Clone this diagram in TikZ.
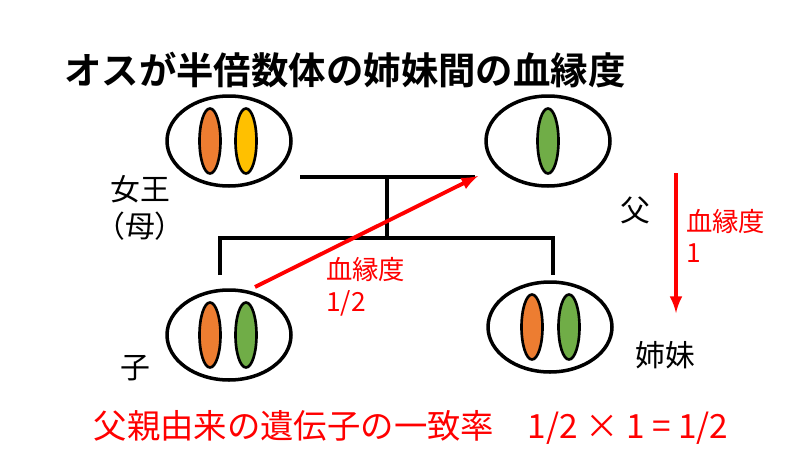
\documentclass[tikz,border=0pt]{standalone}
\usepackage{fontspec}
\setmainfont{Noto Sans CJK JP}
\newfontfamily\jpbold{Noto Sans CJK JP Bold}
\usetikzlibrary{shapes.geometric}
\definecolor{corange}{HTML}{ED7D31}
\definecolor{cyellow}{HTML}{FFC000}
\definecolor{cgreen}{HTML}{70AD47}
\begin{document}
\begin{tikzpicture}[x=0.02cm,y=-0.02cm,
    chrom/.style={draw,line width=1.5pt,ellipse,inner sep=0pt,minimum width=0.42cm,minimum height=1.3cm},
    lbl/.style={font=\fontsize{17}{21}\selectfont,align=center},
    rlbl/.style={font=\fontsize{15}{18}\selectfont,text=red,align=left,anchor=west},
    line/.style={line width=2.2pt}]
  \useasboundingbox (0,0) rectangle (800,450);
  \node[anchor=west,font=\jpbold\fontsize{21.3}{23}\selectfont] (title) at (58,70) {オスが半倍数体の姉妹間の血縁度};
  % cells
  \foreach \name/\cx/\cy in {queen/229/141,father/548/141,child/229/335,sister/550/327}{%
    \node[draw,line width=2pt,ellipse,minimum width=2.48cm,minimum height=1.8cm] (\name) at (\cx,\cy) {};
  }
  \foreach \cx/\cy/\col in {210/141/corange,246/141/cyellow,548/141/cgreen,
      210/335/corange,246/335/cgreen,532/327/corange,569/327/cgreen}{%
    \node[chrom,fill=\col] at (\cx,\cy) {};
  }
  % lineage
  \coordinate (m1) at (300,177);
  \coordinate (m2) at (475,177);
  \coordinate (j1) at (387,177);
  \coordinate (j2) at (387,238);
  \coordinate (l1) at (220,238);
  \coordinate (l2) at (553,238);
  \coordinate (c1) at (220,275);
  \coordinate (c2) at (553,275);
  \draw[line] (m1) -- (m2);
  \draw[line] (j1) -- (j2);
  \draw[line] (c1) -- (l1) -- (l2) -- (c2);
  % relatedness arrows
  \coordinate (a1) at (255,287);
  \coordinate (a2) at (478,176);
  \coordinate (b1) at (676,173);
  \coordinate (b2) at (676,313);
  \draw[red,line width=2.2pt,-latex] (a1) -- (a2);
  \draw[red,line width=2.2pt,-latex] (b1) -- (b2);
  \node[rlbl] (r1) at (320,287) {血縁度\\1/2};
  \node[rlbl] (r2) at (680,236) {血縁度\\1};
  % labels
  \node[lbl] (lq) at (140,208) {女王\\（母）};
  \node[lbl] (lf) at (635,210) {父};
  \node[lbl] (lc) at (135,368) {子};
  \node[lbl] (ls) at (665,355) {姉妹};
  \node[font=\fontsize{19}{22}\selectfont,text=red] (res) at (411,427) {父親由来の遺伝子の一致率\quad 1/2 × 1 = 1/2};
\end{tikzpicture}
\end{document}
